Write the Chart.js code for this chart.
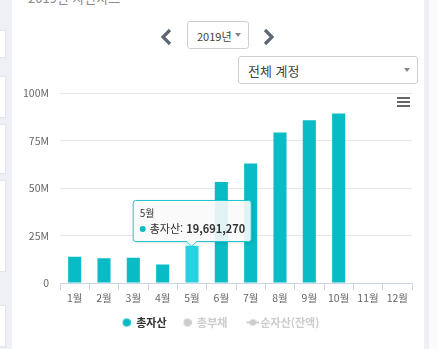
<!DOCTYPE html>
<html lang="ko">
<head>
<meta charset="utf-8">
<script src="https://cdn.jsdelivr.net/npm/chart.js@4/dist/chart.umd.min.js"></script>
<style>
  body { margin: 0; width: 438px; height: 349px; overflow: hidden; background: #eef0f5;
         font-family: 'Noto Sans CJK KR', 'Noto Sans', sans-serif; position: relative; }
  .side-box { position: absolute; left: 0; width: 5px; background: #fff; border: 1px solid #e3e5ea; border-left: none; }
  .panel { position: absolute; left: 12px; top: 0; width: 412px; height: 349px; background: #fff; }
  .right-strip { position: absolute; left: 429px; top: 0; width: 9px; height: 349px; background: #fafbfc; }
  .title { position: absolute; left: 28px; top: -12px; font-size: 13px; color: #8a8a8a; }
  .chev { position: absolute; top: 28px; }
  .select { position: absolute; border: 1px solid #cfcfcf; border-radius: 3px; background: #fff; color: #444; box-sizing: border-box; }
  .select .caret { position: absolute; right: 7px; top: 50%; margin-top: -2px; width: 0; height: 0;
                   border-left: 3px solid transparent; border-right: 3px solid transparent; border-top: 4px solid #888; }
  .menu { position: absolute; left: 397px; top: 97px; width: 13px; }
  .menu div { height: 2px; background: #666; margin-bottom: 2px; }
  #wrap { position: absolute; left: 20px; top: 76px; width: 404px; height: 269px; }
  #tip { position: absolute; pointer-events: none; background: rgba(249,249,249,0.9); border: 1px solid #1ec8d2;
         border-radius: 3px; padding: 5px 5px 5px 6px; white-space: nowrap; color: #333;
         box-shadow: 1px 1px 3px rgba(0,0,0,0.12); transform: translate(-50%, -100%); opacity: 0; }
  #tip:after, #tip:before { content: ''; position: absolute; left: 50%; top: 100%; width: 0; height: 0; border: solid transparent; }
  #tip:before { border-top-color: #1ec8d2; border-width: 6px; margin-left: -6px; }
  #tip:after { border-top-color: #f9f9f9; border-width: 5px; margin-left: -5px; }
  #tip .hd { font-size: 10px; line-height: 14px; }
  #tip .row { font-size: 11px; line-height: 16px; }
  #tip .dot { display: inline-block; width: 6px; height: 6px; border-radius: 50%; margin-right: 4px; vertical-align: 1px; }
</style>
</head>
<body>
<div class="side-box" style="top:30px;height:26px"></div>
<div class="side-box" style="top:76px;height:40px"></div>
<div class="side-box" style="top:124px;height:48px"></div>
<div class="side-box" style="top:180px;height:90px"></div>
<div class="side-box" style="top:305px;height:40px"></div>
<div class="panel"></div>
<div class="right-strip"></div>
<div class="title">2019년 자산차트</div>

<svg class="chev" style="left:159px" width="14" height="18"><polyline points="11,2 4,9 11,16" fill="none" stroke="#5d6873" stroke-width="3.2"/></svg>
<div class="select" style="left:187px;top:21px;width:62px;height:28px;font-size:11px;padding:6px 0 0 9px">2019년<span class="caret"></span></div>
<svg class="chev" style="left:262px" width="14" height="18"><polyline points="3,2 10,9 3,16" fill="none" stroke="#5d6873" stroke-width="3.2"/></svg>
<div class="select" style="left:238px;top:56px;width:180px;height:28px;font-size:13px;padding:4px 0 0 9px">전체 계정<span class="caret"></span></div>
<div class="menu"><div></div><div></div><div></div></div>

<div id="wrap"><canvas id="assetChart"></canvas><div id="tip"></div></div>

<script>
const months = ['1월', '2월', '3월', '4월', '5월', '6월', '7월', '8월', '9월', '10월', '11월', '12월'];
const totalAssets = [13800000, 13000000, 13300000, 9800000, 19691270, 53300000, 63000000, 79300000, 85800000, 89300000, null, null];
const totalDebt = [0, 0, 0, 0, 0, 0, 0, 0, 0, 0, null, null];
const netAssets = [13800000, 13000000, 13300000, 9800000, 19691270, 53300000, 63000000, 79300000, 85800000, 89300000, null, null];
const yTicks = [0, 25000000, 50000000, 75000000, 100000000];

const teal = '#08bbc4';
const tealHover = '#26d2dd';
const muted = '#cccccc';

Chart.defaults.font.family = "'Noto Sans CJK KR', 'Noto Sans', sans-serif";

// legend symbols: the box is 18px wide, marks drawn towards its right edge
const SYM_W = 18;
function dotSymbol(color) {
    const cv = document.createElement('canvas');
    cv.width = SYM_W; cv.height = 10;
    const c = cv.getContext('2d');
    c.fillStyle = color;
    c.beginPath(); c.arc(14, 5, 4, 0, Math.PI * 2); c.fill();
    return cv;
}
function lineSymbol(color) {
    // wider than the box, centred on it, so the line reaches past the box edge
    const cv = document.createElement('canvas');
    cv.width = 32; cv.height = 10;
    const c = cv.getContext('2d');
    c.strokeStyle = color; c.fillStyle = color; c.lineWidth = 2;
    c.beginPath(); c.moveTo(19, 5); c.lineTo(32, 5); c.stroke();
    c.beginPath(); c.arc(25.5, 5, 3.3, 0, Math.PI * 2); c.fill();
    return cv;
}
const symbols = [dotSymbol(teal), dotSymbol(muted), lineSymbol(muted)];

function externalTip(context) {
    const tip = document.getElementById('tip');
    const model = context.tooltip;
    if (model.opacity === 0 || !model.dataPoints || !model.dataPoints.length) {
        tip.style.opacity = 0;
        return;
    }
    const p = model.dataPoints[0];
    const val = p.raw.toLocaleString('en-US');
    tip.innerHTML = '<div class="hd">' + p.label + '</div>' +
        '<div class="row"><span class="dot" style="background:' + p.dataset.borderColor + '"></span>' +
        p.dataset.label + ': <b>' + val + '</b></div>';
    tip.style.left = model.caretX + 'px';
    tip.style.top = (model.caretY - 4) + 'px';
    tip.style.opacity = 1;
}

const assetChart = new Chart(document.getElementById('assetChart'), {
    type: 'bar',
    data: {
        labels: months,
        datasets: [{
            label: '총자산',
            data: totalAssets,
            backgroundColor: teal,
            borderColor: teal,
            hoverBackgroundColor: tealHover,
            borderWidth: 0,
            categoryPercentage: 1,
            barPercentage: 0.445
        }, {
            label: '총부채',
            data: totalDebt,
            backgroundColor: '#f28f43',
            borderColor: '#f28f43',
            hidden: true,
            categoryPercentage: 1,
            barPercentage: 0.445
        }, {
            type: 'line',
            label: '순자산(잔액)',
            data: netAssets,
            borderColor: '#434348',
            backgroundColor: '#434348',
            hidden: true
        }]
    },
    options: {
        responsive: true,
        maintainAspectRatio: false,
        animation: false,
        layout: { padding: { top: 8, right: 12, left: 0, bottom: 7 } },
        scales: {
            x: {
                grid: { offset: true, drawOnChartArea: false, color: '#ccd6eb', tickLength: 7 },
                border: { color: '#ccd6eb' },
                ticks: { color: '#666', font: { size: 10.5 }, padding: 2, maxRotation: 0 },
                afterFit: (scale) => { scale.height = 27; }
            },
            y: {
                min: 0,
                max: 100000000,
                afterBuildTicks: (scale) => { scale.ticks = yTicks.map(v => ({ value: v })); },
                grid: { color: '#e6e6e6', drawTicks: false },
                border: { display: false },
                ticks: {
                    color: '#666',
                    font: { size: 10.5 },
                    padding: 11,
                    callback: (v) => v === 0 ? '0' : (v / 1000000) + 'M'
                },
                afterFit: (scale) => { scale.width = 40; }
            }
        },
        plugins: {
            legend: {
                position: 'bottom',
                labels: {
                    usePointStyle: true,
                    pointStyleWidth: SYM_W,
                    boxHeight: 10,
                    padding: 7,
                    color: '#333',
                    font: { size: 11, weight: 'bold' },
                    generateLabels: (chart) => {
                        const items = Chart.defaults.plugins.legend.labels.generateLabels(chart);
                        return items.map((item, i) => {
                            item.pointStyle = symbols[i];
                            item.lineWidth = 0;
                            if (i === 2) item.text = ' ' + item.text;
                            if (item.hidden) {
                                item.fontColor = muted;
                                item.hidden = false;
                            }
                            return item;
                        });
                    }
                }
            },
            tooltip: { enabled: false, external: externalTip }
        }
    }
});

// show May as the hovered month
const active = [{ datasetIndex: 0, index: 4 }];
assetChart.setActiveElements(active);
assetChart.tooltip.setActiveElements(active, { x: 0, y: 0 });
assetChart.update();
</script>
</body>
</html>
